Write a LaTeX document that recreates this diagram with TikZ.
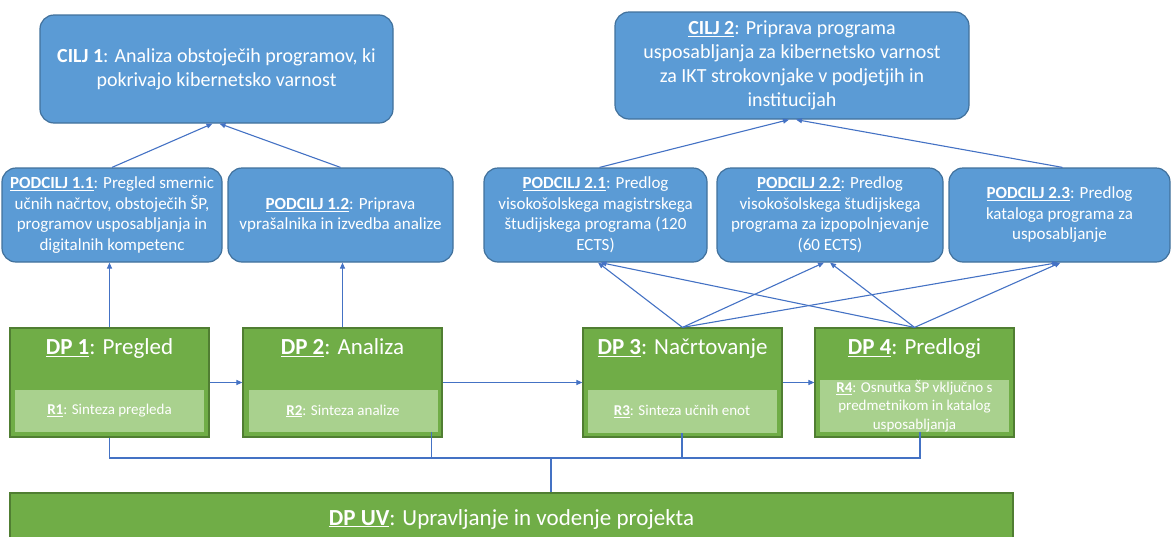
\documentclass[tikz,border=0pt]{standalone}
\usepackage{fontspec}
\setmainfont{Carlito}
\usetikzlibrary{positioning}
\usetikzlibrary{arrows.meta}
\definecolor{goalblue}{RGB}{91,155,213}
\definecolor{goalline}{RGB}{65,113,156}
\definecolor{wpgreen}{RGB}{112,173,71}
\definecolor{wpline}{RGB}{80,126,50}
\definecolor{resgreen}{RGB}{169,209,142}
\definecolor{linkblue}{RGB}{68,114,196}

\begin{document}
\begin{tikzpicture}[x=1pt, y=-1pt,
    goal/.style={draw=goalline, fill=goalblue, line width=1.2pt, rounded corners=14pt,
                 text=white, align=center, inner sep=0pt},
    cilj/.style={goal, font=\fontsize{20}{24}\selectfont},
    podcilj/.style={goal, font=\fontsize{17}{20.5}\selectfont, minimum height=94},
    dpbox/.style={draw=wpline, fill=wpgreen, line width=1.2pt, inner sep=0pt,
                  minimum width=199, minimum height=109},
    dphead/.style={text=white, font=\fontsize{23}{27}\selectfont, inner sep=0pt},
    resbox/.style={fill=resgreen, text=white, align=center, inner sep=0pt,
                   minimum width=189, font=\fontsize{15}{18.5}\selectfont},
    arr/.style={draw=linkblue, line width=1.1pt, -{Triangle[length=6pt,width=5pt]}},
    bus/.style={draw=linkblue, line width=1.4pt}]
    \path[use as bounding box, clip] (0,0) rectangle (1172,536);

    % Goals
    \node[cilj, minimum width=353, minimum height=108] (cilj1) at (216.5,69)
        {\textbf{CILJ 1}: Analiza obstoječih programov, ki\\pokrivajo kibernetsko varnost};
    \node[cilj, minimum width=354, minimum height=107] (cilj2) at (792,65.5)
        {\underline{\textbf{CILJ 2}}: Priprava programa\\usposabljanja za kibernetsko varnost\\za IKT strokovnjake v podjetjih in\\institucijah};

    % Sub-goals
    \node[podcilj, minimum width=220] (p11) at (112,215)
        {\underline{\textbf{PODCILJ 1.1}}: Pregled smernic\\učnih načrtov, obstoječih ŠP,\\programov usposabljanja in\\digitalnih kompetenc};
    \node[podcilj, minimum width=225] (p12) at (340.5,215)
        {\underline{\textbf{PODCILJ 1.2}}: Priprava\\vprašalnika in izvedba analize};
    \node[podcilj, minimum width=223] (p21) at (595.5,215)
        {\underline{\textbf{PODCILJ 2.1}}: Predlog\\visokošolskega magistrskega\\študijskega programa (120\\ECTS)};
    \node[podcilj, minimum width=226] (p22) at (830,215)
        {\underline{\textbf{PODCILJ 2.2}}: Predlog\\visokošolskega študijskega\\programa za izpopolnjevanje\\(60 ECTS)};
    \node[podcilj, minimum width=221] (p23) at (1059.5,215)
        {\underline{\textbf{PODCILJ 2.3}}: Predlog\\kataloga programa za\\usposabljanje};

    % Work packages with their results
    \node[dpbox] (dp1) at (109.5,382.5) {};
    \node[dpbox] (dp2) at (342.5,382.5) {};
    \node[dpbox] (dp3) at (682.5,382.5) {};
    \node[dpbox] (dp4) at (914.5,382.5) {};
    \node[dphead, below=11pt of dp1.north] (dp1h) {\underline{\textbf{DP 1}}: Pregled};
    \node[dphead, below=11pt of dp2.north] (dp2h) {\underline{\textbf{DP 2}}: Analiza};
    \node[dphead, below=11pt of dp3.north] (dp3h) {\underline{\textbf{DP 3}}: Načrtovanje};
    \node[dphead, below=11pt of dp4.north] (dp4h) {\underline{\textbf{DP 4}}: Predlogi};
    \node[resbox, minimum height=42] (r1) at (109.5,411) {\underline{\textbf{R1}}: Sinteza pregleda};
    \node[resbox, minimum height=42] (r2) at (343,411) {\underline{\textbf{R2}}: Sinteza analize};
    \node[resbox, minimum height=43] (r3) at (682,411.5) {\underline{\textbf{R3}}: Sinteza učnih enot};
    \node[resbox, minimum height=52] (r4) at (914.5,406)
        {\underline{\textbf{R4}}: Osnutka ŠP vključno s\\predmetnikom in katalog\\usposabljanja};

    % Project management
    \node[dpbox, minimum width=1003, minimum height=52, text=white,
          font=\fontsize{23}{27}\selectfont] (dpuv) at (511.5,519)
        {\underline{\textbf{DP UV}}: Upravljanje in vodenje projekta};

    % Flow between work packages
    \draw[arr] (dp1.east) -- (dp2.west);
    \draw[arr] (dp2.east) -- (dp3.west);
    \draw[arr] (dp3.east) -- (dp4.west);

    % Work packages to sub-goals
    \draw[arr] (dp1.north) -- (dp1.north |- p11.south);
    \draw[arr] (dp2.north) -- (dp2.north |- p12.south);
    \foreach \t/\a/\b in {p21/2.5/5, p22/-6/0, p23/-1.5/1} {
        \draw[arr] (dp3.north) -- ([xshift=\a pt]\t.south);
        \draw[arr] (dp4.north) -- ([xshift=\b pt]\t.south);
    }

    % Sub-goals to goals
    \draw[arr] (p11.north) -- ([xshift=-4pt]cilj1.south);
    \draw[arr] (p12.north) -- ([xshift=3pt]cilj1.south);
    \draw[arr] ([xshift=4pt]p21.north) -- ([xshift=-3pt]cilj2.south);
    \draw[arr] ([xshift=3pt]p23.north) -- ([xshift=4pt]cilj2.south);

    % Results collected by project management
    \coordinate (busR) at (920,458);
    \coordinate (busM) at (551,458);
    \coordinate (r2drop) at ([xshift=-6pt]r2.south east);
    \draw[bus] (dp1.south) |- (busR) -- (busR |- r4.south);
    \draw[bus] (r2drop) -- (r2drop |- busR);
    \draw[bus] (r3.south) -- (r3.south |- busR);
    \draw[bus] (busM) -- (busM |- dpuv.north);
\end{tikzpicture}
\end{document}
